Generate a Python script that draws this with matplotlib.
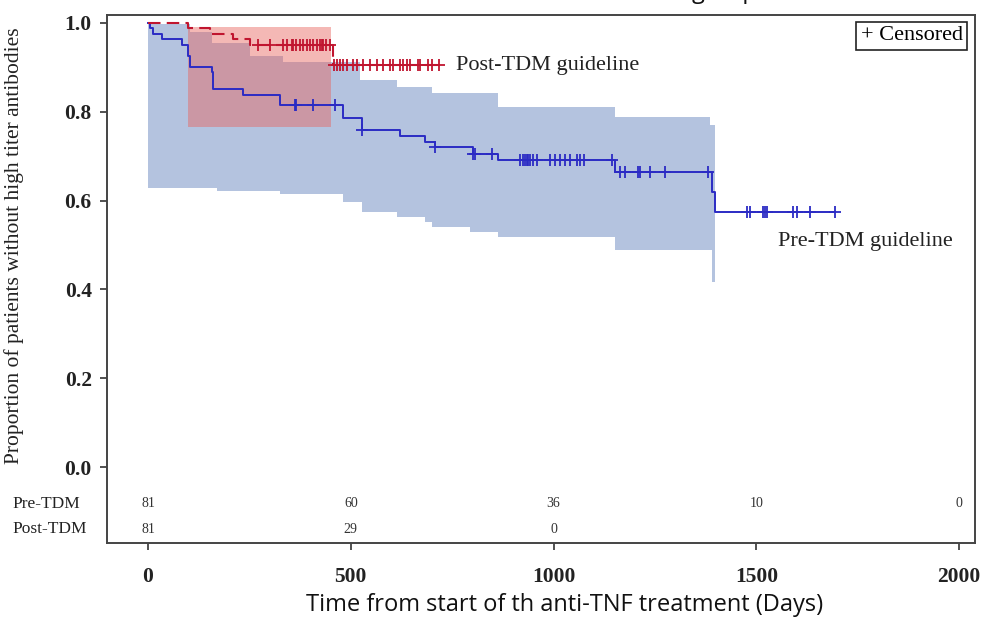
import numpy as np
import matplotlib
matplotlib.use("Agg")
import matplotlib.pyplot as plt

# Pre-TDM guideline (blue): KM steps, censor times, CI band
pre_t = [0, 5, 13, 35, 83, 99, 104, 157, 160, 234, 326, 481, 528, 621, 683, 708, 802, 864, 1152, 1391, 1398]
pre_s = [1.0, 0.988, 0.975, 0.963, 0.951, 0.926, 0.901, 0.889, 0.852, 0.838, 0.815, 0.787, 0.759,
         0.745, 0.733, 0.721, 0.706, 0.691, 0.665, 0.620, 0.575]
pre_end = 1694
pre_cens = [362, 365, 408, 461, 528, 708, 802, 806, 848, 917, 924, 930, 934, 938, 942, 950, 958,
            991, 1004, 1016, 1028, 1041, 1057, 1065, 1074, 1143, 1164, 1176, 1209, 1213, 1238, 1275,
            1381, 1477, 1485, 1517, 1522, 1526, 1591, 1600, 1633, 1694]
pre_band_t = [0, 104, 158, 169, 252, 326, 333, 481, 523, 527, 613, 683, 700, 794, 863, 1152, 1386, 1391, 1397]
pre_band_hi = [0.998, 0.980, 0.955, 0.955, 0.925, 0.925, 0.912, 0.912, 0.872, 0.872, 0.856, 0.856,
               0.842, 0.842, 0.811, 0.789, 0.770, 0.770, 0.770]
pre_band_lo = [0.628, 0.628, 0.628, 0.622, 0.622, 0.615, 0.615, 0.598, 0.598, 0.575, 0.564, 0.552,
               0.541, 0.530, 0.519, 0.489, 0.489, 0.417, 0.417]

# Post-TDM guideline (red)
post_t = [0, 99, 153, 210, 252, 456]
post_s = [1.0, 0.988, 0.975, 0.963, 0.951, 0.905]
post_end = 718
post_cens = [272, 301, 334, 342, 354, 358, 366, 375, 383, 391, 400, 408, 416, 424, 428, 432, 440, 450,
             458, 466, 473, 481, 491, 506, 515, 530, 547, 565, 580, 597, 604, 621, 629, 639, 646,
             666, 671, 691, 700, 718]
post_band_t = [99, 452]
post_band_hi = [0.990, 0.990]
post_band_lo = [0.766, 0.766]

# number at risk
risk_ticks = [0, 500, 1000, 1500, 2000]
risk_pre = [81, 60, 36, 10, 0]
risk_post = [81, 29, 0]

serif = "Liberation Serif"
blue = "#2b2bc4"
red = "#c0152f"


def step_at(ts, ss, x):
    idx = np.searchsorted(ts, x, side="right") - 1
    return np.asarray(ss)[idx]


fig = plt.figure(figsize=(9.85, 6.2), dpi=100)
ax = fig.add_axes([107 / 985, 1 - 543 / 620, 868 / 985, 528 / 620])

# confidence bands
ax.fill_between(pre_band_t, pre_band_lo, pre_band_hi, step="post", color="#b4c3df", lw=0, zorder=1)
ax.fill_between(post_band_t, post_band_lo, post_band_hi, step="post", color="#e8625c", alpha=0.45,
                lw=0, zorder=2)

# KM curves
ax.step(pre_t + [pre_end], pre_s + [pre_s[-1]], where="post", color=blue, lw=1.4, zorder=3)
ax.step(post_t + [post_end], post_s + [post_s[-1]], where="post", color=red, lw=1.5,
        linestyle=(0, (6, 3)), zorder=4)
ax.plot(pre_cens, step_at(pre_t, pre_s, pre_cens), "+", color=blue, ms=9, mew=1.3, zorder=5)
ax.plot(post_cens, step_at(post_t, post_s, post_cens), "+", color=red, ms=9, mew=1.3, zorder=5)

ax.text(760, 0.905, "Post-TDM guideline", family=serif, fontsize=16, va="center", ha="left",
        color="#222222")
ax.text(1553, 0.508, "Pre-TDM guideline", family=serif, fontsize=16, va="center", ha="left",
        color="#222222")
ax.text(0.986, 0.961, "+ Censored", transform=ax.transAxes, family=serif, fontsize=16,
        ha="right", va="center",
        bbox=dict(boxstyle="square,pad=0.2", fc="white", ec="#222222", lw=1.2))

# at risk table
for x, n in zip(risk_ticks, risk_pre):
    ax.text(x, -0.083, str(n), family=serif, fontsize=10, ha="center", va="center", color="#333333")
for x, n in zip(risk_ticks, risk_post):
    ax.text(x, -0.140, str(n), family=serif, fontsize=10, ha="center", va="center", color="#333333")
ax.text(12 / 985, 1 - 504 / 620, "Pre-TDM", transform=fig.transFigure, family=serif, fontsize=12.5,
        ha="left", va="center", color="#222222")
ax.text(12 / 985, 1 - 529 / 620, "Post-TDM", transform=fig.transFigure, family=serif, fontsize=12.5,
        ha="left", va="center", color="#222222")

ax.set_xlim(-101, 2039)
ax.set_ylim(-0.171, 1.018)
ax.set_xticks(risk_ticks)
ax.set_yticks([0.0, 0.2, 0.4, 0.6, 0.8, 1.0])
ax.set_yticklabels(["0.0", "0.2", "0.4", "0.6", "0.8", "1.0"])
for lab in ax.get_xticklabels() + ax.get_yticklabels():
    lab.set_family(serif)
    lab.set_fontsize(15.5)
    lab.set_fontweight("bold")
    lab.set_color("#222222")
ax.tick_params(direction="out", length=5, width=1.2, color="#333333", pad=6)
ax.tick_params(axis="x", pad=12)
for sp in ax.spines.values():
    sp.set_color("#444444")
    sp.set_linewidth(1.4)

fig.text(14 / 985, 1 - 246 / 620, "Proportion of patients without high titer antibodies",
         family=serif, fontsize=15.5, rotation=90, ha="center", va="center", color="#222222")
fig.text(565 / 985, 1 - 605 / 620, "Time from start of th anti-TNF treatment (Days)",
         family="Open Sans", fontsize=17, ha="center", va="center", color="#111111")
fig.text(758 / 985, 1 + 1.5 / 620, "group", family="Open Sans", fontsize=17, ha="right",
         va="baseline", color="#111111")

fig.savefig("out.png", dpi=100)
